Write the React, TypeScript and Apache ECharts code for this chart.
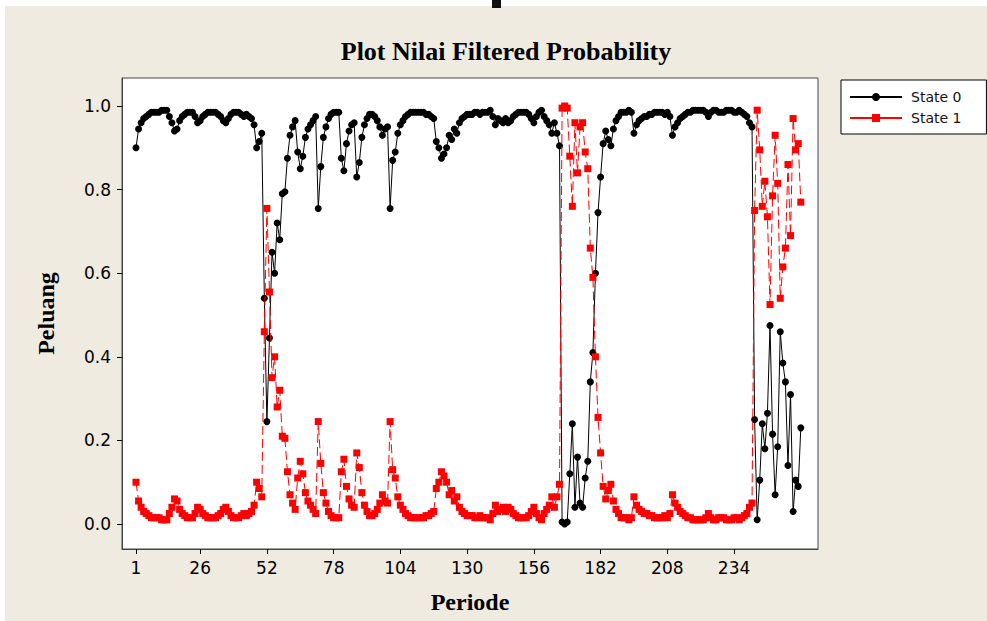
import React, { useEffect, useRef } from "react";
import * as echarts from "echarts";

const titleText = "Plot Nilai Filtered Probability";
const xTicks = [1, 26, 52, 78, 104, 130, 156, 182, 208, 234];
const yTicks = [0, 0.2, 0.4, 0.6, 0.8, 1.0];

// Filtered probability of State 0, periods 1..260
const state0 = [
  0.90, 0.945, 0.96, 0.97, 0.975, 0.98, 0.985, 0.985, 0.985, 0.985,
  0.99, 0.99, 0.99, 0.975, 0.96, 0.94, 0.945, 0.965, 0.975, 0.98,
  0.985, 0.985, 0.985, 0.975, 0.96, 0.965, 0.975, 0.98, 0.985, 0.985,
  0.985, 0.985, 0.98, 0.975, 0.965, 0.96, 0.97, 0.98, 0.985, 0.985,
  0.985, 0.98, 0.975, 0.98, 0.975, 0.97, 0.955, 0.90, 0.915, 0.935,
  0.54, 0.245, 0.445, 0.65, 0.60, 0.72, 0.68, 0.79, 0.795, 0.875,
  0.93, 0.95, 0.965, 0.89, 0.85, 0.88, 0.925, 0.945, 0.955, 0.965,
  0.975, 0.755, 0.855, 0.925, 0.95, 0.97, 0.98, 0.985, 0.985, 0.985,
  0.875, 0.845, 0.91, 0.94, 0.955, 0.96, 0.83, 0.865, 0.925, 0.955,
  0.97, 0.98, 0.98, 0.975, 0.965, 0.95, 0.93, 0.945, 0.95, 0.755,
  0.87, 0.89, 0.935, 0.955, 0.965, 0.975, 0.98, 0.985, 0.985, 0.985,
  0.985, 0.985, 0.985, 0.98, 0.98, 0.975, 0.97, 0.915, 0.90, 0.875,
  0.885, 0.90, 0.93, 0.92, 0.945, 0.935, 0.96, 0.97, 0.975, 0.98,
  0.98, 0.98, 0.985, 0.985, 0.98, 0.985, 0.985, 0.985, 0.99, 0.975,
  0.955, 0.97, 0.965, 0.96, 0.97, 0.96, 0.965, 0.975, 0.98, 0.985,
  0.985, 0.985, 0.985, 0.98, 0.97, 0.96, 0.975, 0.985, 0.99, 0.975,
  0.965, 0.955, 0.935, 0.96, 0.935, 0.905, 0.005, 0.0, 0.005, 0.12,
  0.24, 0.04, 0.16, 0.05, 0.04, 0.11, 0.15, 0.34, 0.41, 0.60,
  0.745, 0.83, 0.91, 0.94, 0.92, 0.905, 0.945, 0.965, 0.975, 0.985,
  0.985, 0.985, 0.99, 0.985, 0.935, 0.955, 0.965, 0.97, 0.975, 0.975,
  0.98, 0.98, 0.985, 0.985, 0.985, 0.985, 0.98, 0.985, 0.975, 0.93,
  0.95, 0.96, 0.97, 0.975, 0.98, 0.985, 0.985, 0.99, 0.99, 0.99,
  0.99, 0.99, 0.985, 0.975, 0.985, 0.99, 0.99, 0.985, 0.985, 0.985,
  0.99, 0.99, 0.99, 0.985, 0.985, 0.99, 0.985, 0.98, 0.975, 0.96,
  0.95, 0.25, 0.01, 0.105, 0.24, 0.18, 0.265, 0.475, 0.215, 0.07,
  0.185, 0.46, 0.385, 0.34, 0.14, 0.31, 0.03, 0.105, 0.09, 0.23,
];

// Filtered probability of State 1, periods 1..260
const state1 = [
  0.10, 0.055, 0.04, 0.03, 0.025, 0.02, 0.015, 0.015, 0.015, 0.015,
  0.01, 0.01, 0.01, 0.025, 0.04, 0.06, 0.055, 0.035, 0.025, 0.02,
  0.015, 0.015, 0.015, 0.025, 0.04, 0.035, 0.025, 0.02, 0.015, 0.015,
  0.015, 0.015, 0.02, 0.025, 0.035, 0.04, 0.03, 0.02, 0.015, 0.015,
  0.015, 0.02, 0.025, 0.02, 0.025, 0.03, 0.045, 0.10, 0.085, 0.065,
  0.46, 0.755, 0.555, 0.35, 0.40, 0.28, 0.32, 0.21, 0.205, 0.125,
  0.07, 0.05, 0.035, 0.11, 0.15, 0.12, 0.075, 0.055, 0.045, 0.035,
  0.025, 0.245, 0.145, 0.075, 0.05, 0.03, 0.02, 0.015, 0.015, 0.015,
  0.125, 0.155, 0.09, 0.06, 0.045, 0.04, 0.17, 0.135, 0.075, 0.045,
  0.03, 0.02, 0.02, 0.025, 0.035, 0.05, 0.07, 0.055, 0.05, 0.245,
  0.13, 0.11, 0.065, 0.045, 0.035, 0.025, 0.02, 0.015, 0.015, 0.015,
  0.015, 0.015, 0.015, 0.02, 0.02, 0.025, 0.03, 0.085, 0.10, 0.125,
  0.115, 0.10, 0.07, 0.08, 0.055, 0.065, 0.04, 0.03, 0.025, 0.02,
  0.02, 0.02, 0.015, 0.015, 0.02, 0.015, 0.015, 0.015, 0.01, 0.025,
  0.045, 0.03, 0.035, 0.04, 0.03, 0.04, 0.035, 0.025, 0.02, 0.015,
  0.015, 0.015, 0.015, 0.02, 0.03, 0.04, 0.025, 0.015, 0.01, 0.025,
  0.035, 0.045, 0.065, 0.04, 0.065, 0.095, 0.995, 1.0, 0.995, 0.88,
  0.76, 0.96, 0.84, 0.95, 0.96, 0.89, 0.85, 0.66, 0.59, 0.40,
  0.255, 0.17, 0.09, 0.06, 0.08, 0.095, 0.055, 0.035, 0.025, 0.015,
  0.015, 0.015, 0.01, 0.015, 0.065, 0.045, 0.035, 0.03, 0.025, 0.025,
  0.02, 0.02, 0.015, 0.015, 0.015, 0.015, 0.02, 0.015, 0.025, 0.07,
  0.05, 0.04, 0.03, 0.025, 0.02, 0.015, 0.015, 0.01, 0.01, 0.01,
  0.01, 0.01, 0.015, 0.025, 0.015, 0.01, 0.01, 0.015, 0.015, 0.015,
  0.01, 0.01, 0.01, 0.015, 0.015, 0.01, 0.015, 0.02, 0.025, 0.04,
  0.05, 0.75, 0.99, 0.895, 0.76, 0.82, 0.735, 0.525, 0.785, 0.93,
  0.815, 0.54, 0.615, 0.66, 0.86, 0.69, 0.97, 0.895, 0.91, 0.77,
];

const BG = "#EFEBE1";

export default function App() {
  const ref = useRef<HTMLDivElement>(null);
  useEffect(() => {
    if (!ref.current) return;
    const chart = echarts.init(ref.current, undefined, { renderer: "svg" });
    const d0 = state0.map((v, i) => [i + 1, v]);
    const d1 = state1.map((v, i) => [i + 1, v]);
    chart.setOption({
      animation: false,
      backgroundColor: BG,
      title: {
        text: titleText,
        left: 501,
        top: 33,
        textAlign: "center",
        textStyle: {
          fontFamily: "Liberation Serif",
          fontWeight: "bold",
          fontSize: 26,
          color: "#000",
        },
      },
      graphic: [
        { type: "rect", shape: { x: 0, y: 0, width: 987, height: 6 }, style: { fill: "#fff" }, z: 0 },
        { type: "rect", shape: { x: 0, y: 0, width: 5, height: 621 }, style: { fill: "#fff" }, z: 0 },
        { type: "rect", shape: { x: 492, y: 0, width: 9, height: 8 }, style: { fill: "#111" }, z: 1 },
      ],
      legend: {
        orient: "vertical",
        left: 841,
        top: 80,
        padding: [10, 25, 9, 8],
        itemGap: 7,
        itemWidth: 52,
        itemHeight: 10,
        backgroundColor: "#fff",
        borderColor: "#000",
        borderWidth: 1,
        borderRadius: 0,
        lineStyle: { type: "solid" },
        textStyle: { fontFamily: "DejaVu Sans", fontSize: 14, color: "#111", padding: [0, 0, 0, 4] },
        data: ["State 0", "State 1"],
      },
      grid: {
        left: 122,
        right: 987 - 818,
        top: 78,
        bottom: 621 - 549,
        show: true,
        backgroundColor: "#fff",
        borderColor: "#444",
        borderWidth: 1,
      },
      xAxis: {
        type: "value",
        min: -4.45,
        max: 266.7,
        name: "Periode",
        nameLocation: "middle",
        nameGap: 41,
        nameTextStyle: { fontFamily: "Liberation Serif", fontWeight: "bold", fontSize: 24, color: "#000" },
        axisLine: { show: true, onZero: false, lineStyle: { color: "#444" } },
        axisTick: { show: true, length: 5, lineStyle: { color: "#000" }, customValues: xTicks },
        axisLabel: {
          customValues: xTicks,
          fontFamily: "DejaVu Sans",
          fontSize: 17,
          color: "#000",
          margin: 10,
        },
        splitLine: { show: false },
      },
      yAxis: {
        type: "value",
        min: -0.0598,
        max: 1.067,
        name: "Peluang",
        nameLocation: "middle",
        nameGap: 64,
        nameRotate: 90,
        nameTextStyle: { fontFamily: "Liberation Serif", fontWeight: "bold", fontSize: 24, color: "#000" },
        axisLine: { show: true, onZero: false, lineStyle: { color: "#444" } },
        axisTick: { show: true, length: 5, lineStyle: { color: "#000" }, customValues: yTicks },
        axisLabel: {
          customValues: yTicks,
          formatter: (v: number) => v.toFixed(1),
          fontFamily: "DejaVu Sans",
          fontSize: 17,
          color: "#000",
          margin: 11,
        },
        splitLine: { show: false },
      },
      series: [
        {
          name: "State 0",
          type: "line",
          data: d0,
          symbol: "circle",
          symbolSize: 7,
          itemStyle: { color: "#000" },
          lineStyle: { color: "#000", width: 1 },
          z: 2,
        },
        {
          name: "State 1",
          type: "line",
          data: d1,
          symbol: "rect",
          symbolSize: 7,
          itemStyle: { color: "#ff0000" },
          lineStyle: { color: "#ff0000", width: 1, type: [9, 4] },
          z: 3,
        },
      ],
    });
    return () => chart.dispose();
  }, []);
  return (
    <div
      ref={ref}
      style={{ position: "fixed", left: 0, top: 0, width: 987, height: 621 }}
    />
  );
}
